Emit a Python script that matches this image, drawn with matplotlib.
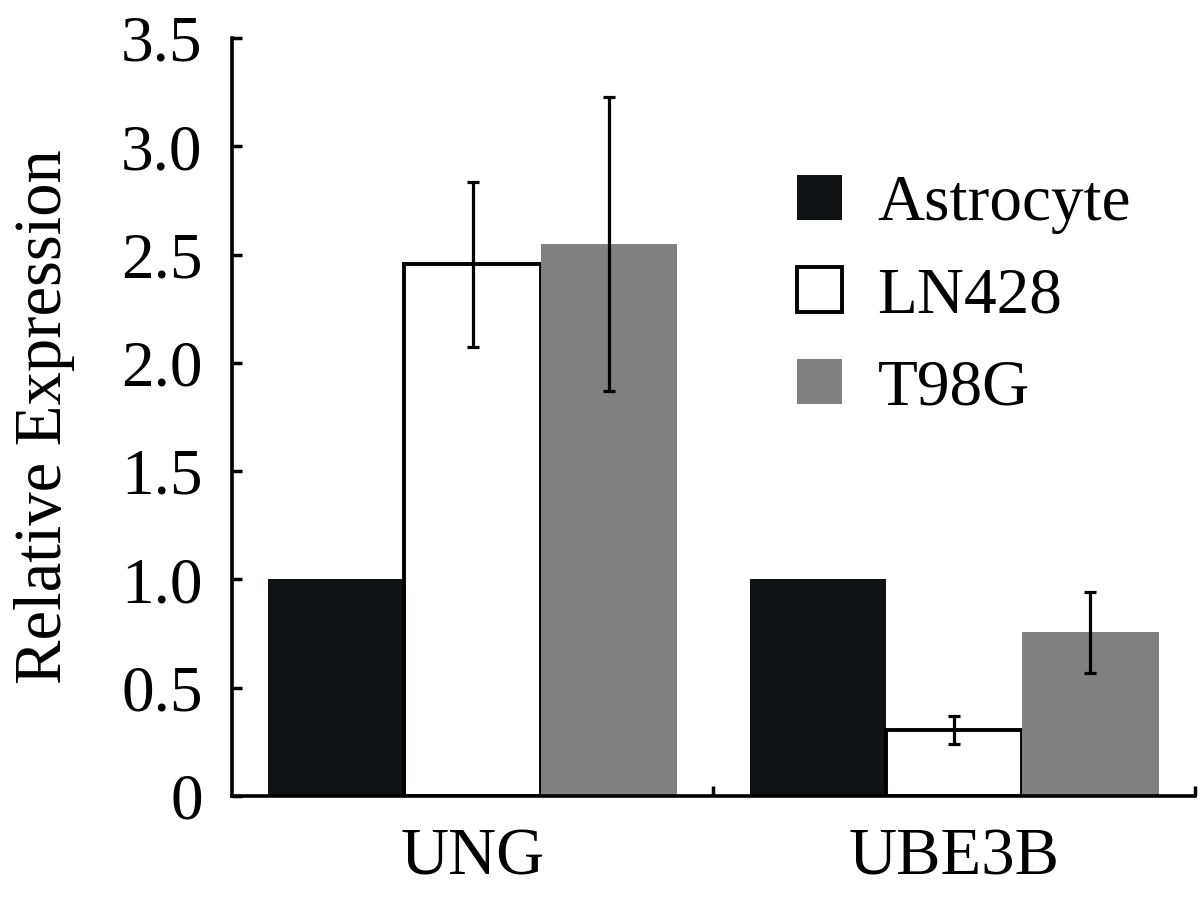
import matplotlib
matplotlib.use("Agg")
import matplotlib.pyplot as plt
import numpy as np
from matplotlib.patches import Patch

genes = ["UNG", "UBE3B"]
series = ["Astrocyte", "LN428", "T98G"]
astrocyte = [1.0, 1.0]
ln428 = [2.455, 0.305]
t98g = [2.55, 0.755]
ln428_err = [0.38, 0.065]
t98g_err = [0.68, 0.185]
yticks = [0, 0.5, 1.0, 1.5, 2.0, 2.5, 3.0, 3.5]
ytick_labels = ["0", "0.5", "1.0", "1.5", "2.0", "2.5", "3.0", "3.5"]

plt.rcParams['font.family'] = ['Liberation Serif', 'DejaVu Serif']
FS = 47

fig = plt.figure(figsize=(12.01, 8.97), dpi=100)
ax = fig.add_axes([0.193, 0.1126, 0.802, 0.845])

x = np.arange(len(genes))
w = 0.283
ax.bar(x - w, astrocyte, w, color="#101314", linewidth=0, zorder=2)
ax.bar(x, ln428, w, color="white", edgecolor="black", linewidth=2.8, zorder=2)
ax.bar(x + w, t98g, w, color="#808080", linewidth=0, zorder=2)
ax.errorbar(x, ln428, yerr=ln428_err, fmt="none", ecolor="black", elinewidth=2.3,
            capsize=4, capthick=2.3, zorder=3)
ax.errorbar(x + w, t98g, yerr=t98g_err, fmt="none", ecolor="black", elinewidth=2.3,
            capsize=4, capthick=2.3, zorder=3)

ax.set_xlim(-0.5, 1.5)
ax.set_ylim(0, 3.5)
ax.set_yticks(yticks)
ax.set_yticklabels(ytick_labels)
ax.set_xticks(x)
ax.set_xticklabels(genes)
ax.set_xticks([0.5, 1.5], minor=True)
ax.tick_params(axis="x", which="major", length=0, pad=23, labelsize=48)
ax.tick_params(axis="x", which="minor", direction="in", length=7, width=2.5)
ax.tick_params(axis="y", direction="in", length=7, width=2.5, pad=21, labelsize=FS)
for s in ["top", "right"]:
    ax.spines[s].set_visible(False)
for s in ["left", "bottom"]:
    ax.spines[s].set_linewidth(2.6)
ax.spines["bottom"].set_zorder(4)

ax.set_ylabel("Relative Expression", fontsize=48, labelpad=33)

handles = [Patch(facecolor="#101314", edgecolor="none"),
           Patch(facecolor="white", edgecolor="black", linewidth=2.8),
           Patch(facecolor="#808080", edgecolor="none")]
ax.legend(handles, series, loc="upper left", bbox_to_anchor=(0.587, 0.82),
          frameon=False, fontsize=FS, handlelength=0.68, handleheight=0.68,
          handletextpad=0.55, labelspacing=0.5, borderaxespad=0, borderpad=0)

fig.savefig("out.png", dpi=100)
